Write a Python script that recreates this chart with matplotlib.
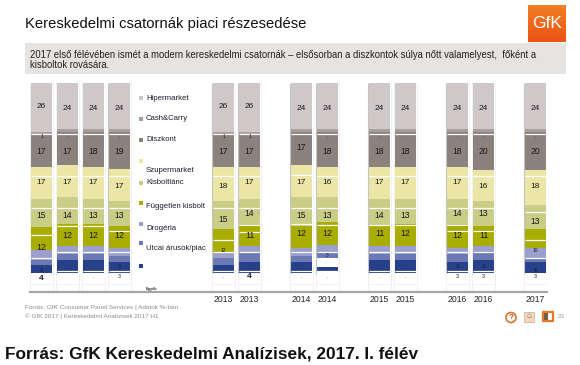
import numpy as np
import matplotlib
matplotlib.use("Agg")
import matplotlib.pyplot as plt
from matplotlib.patches import Rectangle, Circle

plt.rcParams['font.family'] = ['Liberation Sans', 'DejaVu Sans']

# bars in order, first four have no year label
slots = [0,1,2,3,7,8,10,11,13,14,16,17,19]
year_labels = ["","","","","2013","2013","2014","2014","2015","2015","2016","2016","2017"]

hiper   = [26,24,24,24,26,26,24,24,24,24,24,24,24]
cash    = [1,2,2,2,1,1,2,2,2,2,2,2,2]
diszk   = [17,17,18,19,17,17,17,18,18,18,18,20,20]
szuper  = [17,17,17,17,18,17,17,16,17,17,17,16,18]
kisb    = [15,14,13,13,15,14,15,13,14,13,14,13,13]
fugg    = [12,12,12,12,12,11,12,12,11,12,12,11,10]
drog    = [5,4,4,4,3,3,4,4,4,4,3,3,5]
utcai   = [3,3,3,3,4,5,3,3,3,3,4,4,2]
gap     = [0,0,0,0,0,0,0,5,0,0,0,0,0]
kek     = [4,7,7,6,4,6,6,2,7,7,6,7,6]

series = [hiper,cash,diszk,szuper,kisb,fugg,drog,utcai,gap,kek]
colors = ["#cfc8c9","#a89e9c","#8b817d","#ebe6a6","#c9cd85","#a8ad00","#9a9fce","#6d79b4","#ffffff","#26408a"]

legend_names = ["Hipermarket","Cash&Carry","Diszkont","Szupermarket","Kisboltlánc","Független kisbolt","Drogéria","Utcai árusok/piac",""]
legend_cols = ["#cfc8c9","#a89e9c","#8b817d","#ebe6a6","#c9cd85","#a8ad00","#9a9fce","#6d79b4","#26408a"]
legend_sq_y = [98,119,140,161,183,203,224,243,266]
legend_tx_y = [98,118.5,139.5,171,183,206,229,248,266]

# white row lines of the table behind the bars, pixel rows
line_b = [176,176,176,176,176,176,175,176,176,176,176,176,176]
line_c = [208,208,208,208,208,208,208,208,208,208,208,208,212]
line_d = [235,226,226,231,240,232,224,225,225,225,231,231,240]
line_e = [258,252,252,252,252,252,252,252,252,252,252,252,258]

# label rows, pixel rows
y_h = [107,108,108,108,107,107,108,108,108,108,108,108,108]
y_d = [151,152,152,151,151,151,147,151,152,151,151,151,151]
y_s = [182,183,182,186,186,183,183,183,183,183,183,187,187]
y_k = [215,216,216,215,220,214,216,216,216,216,214,214,221]
y_f = [247,235,235,236,250,236,234,234,234,234,236,236,250]
bottom_txt = ["4","","·","3","·","4","·","·","·","·","3","3","3"]
bottom_y = [279,278,278,277,278,277,278,278,278,278,277,277,277]
kek_txt = ["3","·","","3","","·","·","","·","·","3","3","4"]
kek_y = [270,268,268,267,268,267,268,268,267,267,267,267,270]

W,H = 580,365
fig = plt.figure(figsize=(W/100,H/100),dpi=100,facecolor="white")

# chart axes: 1.9 px per percent, 0 at pixel row 83
top_px,bot_px = 83,292
left_px,right_px = 29.8,547
unit = 1.9
def py(p):
    return (p-top_px)/unit
ax = fig.add_axes([left_px/W,1-bot_px/H,(right_px-left_px)/W,(bot_px-top_px)/H])
ax.set_xlim((left_px-41.5)/26,(right_px-41.5)/26)
ax.set_ylim(py(bot_px),0)
ax.patch.set_alpha(0)
for s in ["top","left","right"]:
    ax.spines[s].set_visible(False)
ax.spines["bottom"].set_color("#a6a6a6")
ax.spines["bottom"].set_linewidth(1.6)
ax.set_yticks([])
ax.set_xticks(slots)
ax.set_xticklabels(year_labels,fontsize=6.2,color="#222222")
ax.tick_params(axis="x",length=0,pad=2)

w = 0.78
bottom = np.zeros(len(slots))
# pale table cells
for x in slots:
    ax.add_patch(Rectangle((x-w/2-0.06,py(81)),w+0.12,py(291)-py(81),fc="none",ec="#f2f2f2",lw=0.8,zorder=1))
    ax.plot([x-w/2-0.05,x+w/2+0.05],[py(284),py(284)],color="#f2f2f2",lw=0.7,zorder=1)
for vals,c in zip(series,colors):
    ax.bar(slots,vals,w,bottom=bottom,color=c,zorder=2)
    bottom = bottom+np.array(vals)
# shadow on the left edge of some bars
for x in [3,7,8,10,11,13,16,19]:
    ax.plot([x-w/2-0.04]*2,[py(84),py(273)],color="#c4c4c4",lw=0.8,zorder=2)
# white table lines
for i,x in enumerate(slots):
    for row in [134,line_b[i],line_c[i],line_d[i],line_e[i],271]:
        if row==271 and i in (0,12):
            continue
        ax.plot([x-w/2,x+w/2],[py(row),py(row)],color="white",lw=0.9,zorder=3,solid_capstyle="butt")

lab = dict(ha="center",va="center",color="#1a1a1a",zorder=4)
for i,x in enumerate(slots):
    ax.text(x,py(y_h[i]),str(hiper[i]),fontsize=6,**lab)
    ax.text(x,py(137),str(cash[i]) if cash[i]==1 else "·",fontsize=3.5,**lab)
    ax.text(x,py(y_d[i]),str(diszk[i]),fontsize=6.2,**lab)
    ax.text(x,py(y_s[i]),str(szuper[i]),fontsize=6,**lab)
    ax.text(x,py(y_k[i]),str(kisb[i]),fontsize=6.2,**lab)
    small = i in (4,12)
    ax.text(x,py(y_f[i]),str(fugg[i]),fontsize=3.5 if small else 6.4,**lab)
    if kek_txt[i]:
        ax.text(x,py(kek_y[i]),kek_txt[i],fontsize=3.8,**lab)
    if bottom_txt[i]:
        big = bottom_txt[i]=="4"
        ax.text(x,py(bottom_y[i]),bottom_txt[i],fontsize=6 if big else 3.8,
                fontweight="bold" if big else "normal",**lab)
ax.text(slots[7],py(255.5),str(utcai[7]),fontsize=3.5,**lab)

# page furniture in pixel coordinates
pg = fig.add_axes([0,0,1,1])
pg.set_xlim(0,W)
pg.set_ylim(H,0)
pg.axis("off")
pg.patch.set_alpha(0)

pg.text(25,24,"Kereskedelmi csatornák piaci részesedése",fontsize=10.6,color="#111111",va="center")
pg.add_patch(Rectangle((25,43),540.5,31,fc="#e6e3e1",ec="none"))
pg.text(30,55,"2017 első félévében ismét a modern kereskedelmi csatornák – elsősorban a diszkontok súlya nőtt valamelyest,  főként a",
        fontsize=6.85,color="#222222",va="center")
pg.text(30,65,"kisboltok rovására.",fontsize=6.85,color="#222222",va="center")

# logo
grad = np.linspace(0,1,64).reshape(-1,1)
logo = np.zeros((64,1,3))
logo[...,0] = 0.95-0.03*grad
logo[...,1] = 0.50-0.18*grad
logo[...,2] = 0.14-0.06*grad
pg.imshow(logo,extent=(528,565.5,42,5),aspect="auto",zorder=1)
pg.set_xlim(0,W)
pg.set_ylim(H,0)
pg.text(546.8,24,"GfK",fontsize=12.5,color="white",ha="center",va="center",zorder=2)

# legend
for name,c,sy,ty in zip(legend_names,legend_cols,legend_sq_y,legend_tx_y):
    pg.add_patch(Rectangle((139.3,sy-1.6),3.2,3.2,fc=c,ec="none"))
    if name:
        pg.text(146,ty,name,fontsize=5.6,color="#1c1c2c",va="center")
pg.text(146,288.7,"Egyéb",fontsize=2.8,fontweight="bold",color="#333333",va="center")

# footer
pg.text(25,307,"Forrás: GfK Consumer Panel Services | Adatok %-ban",fontsize=4.6,color="#8c8c8c",va="center")
pg.text(25,316,"© GfK 2017 | Kereskedelmi Analízisek 2017 H1",fontsize=4.6,color="#8c8c8c",va="center")
pg.text(5,354,"Forrás: GfK Kereskedelmi Analízisek, 2017. I. félév",fontsize=12.45,fontweight="bold",color="#111111",va="center")

# nav icons
pg.add_patch(Circle((511,317.5),5,fc="white",ec="#d9722b",lw=1.2))
pg.text(511,317.5,"?",fontsize=6,fontweight="bold",color="#a85a20",ha="center",va="center")
pg.add_patch(Rectangle((524,312),10,10,fc="#ecd8c4",ec="#d9b896",lw=0.6))
pg.text(529,317,"⌂",fontsize=6,color="#a06040",ha="center",va="center")
pg.add_patch(Rectangle((543,312),10,9,fc="white",ec="#e87a2c",lw=1.6))
pg.add_patch(Rectangle((544,313),4,7,fc="#7a5a40",ec="none"))
pg.text(561,316,"23",fontsize=4.6,color="#a0a0a0",ha="center",va="center")

fig.savefig("out.png",dpi=100)
